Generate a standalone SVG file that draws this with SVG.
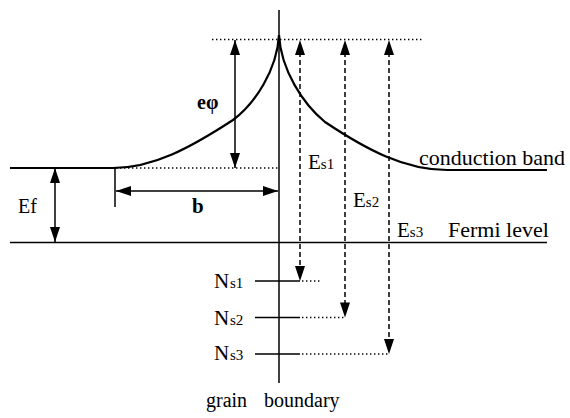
<svg xmlns="http://www.w3.org/2000/svg" width="570" height="418" viewBox="0 0 570 418">
<style>
.ln{fill:none;stroke:#000;stroke-width:1.5}
.cv{fill:none;stroke:#000;stroke-width:2.2}
.dot{fill:none;stroke:#000;stroke-width:1.3;stroke-dasharray:1.4 2.6}
.dash{fill:none;stroke:#000;stroke-width:1.5;stroke-dasharray:5 3}
.arr{fill:none;stroke:#000;stroke-width:1.5;marker-start:url(#ah);marker-end:url(#ah)}
.lb{font-size:21px}
.sub{font-size:15px}
</style>
<defs>
<marker id="ah" markerUnits="userSpaceOnUse" markerWidth="16" markerHeight="11" refX="15" refY="5" orient="auto-start-reverse" viewBox="0 0 16 10">
<path d="M0,0 L15,5 L0,10 z" fill="#000"/>
</marker>
</defs>
<rect width="570" height="418" fill="#fff"/>
<g id="bands">
<path class="cv" d="M10,168 L113,168 C153,168 190,148 233,120 C255,103.5 277,70 279,35 C281,70 303,104 325,122 C367,150 405,170 447,170 L547,170"/>
<line class="ln" x1="10" y1="242.5" x2="547" y2="242.5"/>
<line class="ln" x1="279" y1="10" x2="279" y2="383"/>
</g>
<g id="guides">
<line class="dot" x1="212" y1="39.5" x2="424" y2="39.5"/>
<line class="dot" x1="116" y1="168" x2="279" y2="168"/>
<line class="ln" x1="115" y1="168" x2="115" y2="207"/>
</g>
<g id="levels">
<line class="ln" x1="255" y1="281" x2="300" y2="281"/>
<line class="dot" x1="302" y1="281" x2="322" y2="281"/>
<line class="ln" x1="255" y1="317.5" x2="300" y2="317.5"/>
<line class="dot" x1="302" y1="317.5" x2="345" y2="317.5"/>
<line class="ln" x1="255" y1="354" x2="300" y2="354"/>
<line class="dot" x1="302" y1="354" x2="389" y2="354"/>
</g>
<g id="connectors">
<line class="arr" x1="235" y1="40" x2="235" y2="168"/>
<line class="arr" x1="116" y1="191" x2="278" y2="191"/>
<line class="arr" x1="55" y1="168" x2="55" y2="242"/>
<line class="dash" x1="300" y1="52" x2="300" y2="270"/>
<line class="dash" x1="345" y1="52" x2="345" y2="306"/>
<line class="dash" x1="389" y1="52" x2="389" y2="343"/>
<path fill="#000" d="M300,40 L305,55 L295,55 z M345,40 L350,55 L340,55 z M389,40 L394,55 L384,55 z M300,281 L305,266 L295,266 z M345,317.5 L350,302.5 L340,302.5 z M389,354 L394,339 L384,339 z"/>
</g>
<g id="labels" font-family="Liberation Serif, Times New Roman, Times, Nimbus Roman, DejaVu Serif, serif" fill="#000">
<text x="197" y="109" font-size="20" font-weight="bold">eφ</text>
<text x="192" y="213" font-size="21" font-weight="bold">b</text>
<text x="18" y="213" font-size="20">Ef</text>
<text x="419" y="165" font-size="22">conduction band</text>
<text x="448" y="237" font-size="22">Fermi level</text>
<text x="308" y="169" class="lb">E<tspan class="sub">s1</tspan></text>
<text x="353" y="207" class="lb">E<tspan class="sub">s2</tspan></text>
<text x="397" y="237" class="lb">E<tspan class="sub">s3</tspan></text>
<text x="214" y="288" class="lb">N<tspan class="sub" x="230">s1</tspan></text>
<text x="214" y="325" class="lb">N<tspan class="sub" x="230">s2</tspan></text>
<text x="214" y="360" class="lb">N<tspan class="sub" x="230">s3</tspan></text>
<text y="407" font-size="20"><tspan x="206">grain</tspan><tspan x="264">boundary</tspan></text>
</g>
</svg>
